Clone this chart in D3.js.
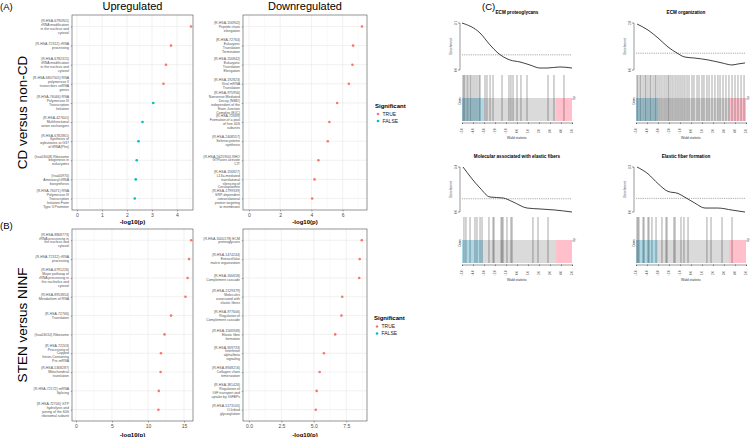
<!DOCTYPE html>
<html><head><meta charset="utf-8">
<script src="https://cdn.jsdelivr.net/npm/d3@7"></script>
<style>body{margin:0;background:#fff}svg{display:block}</style>
</head><body>
<svg id="c" width="750" height="437"></svg>
<script>
// ---------------- DATA ----------------
const upCDLabels = [
 "(R-HSA-6790901)\nrRNA modification\nin the nucleus and\ncytosol",
 "(R-HSA-72312) rRNA\nprocessing",
 "(R-HSA-6782315)\ntRNA modification\nin the nucleus and\ncytosol",
 "(R-HSA-6807505) RNA\npolymerase II\ntranscribes snRNA\ngenes",
 "(R-HSA-76046) RNA\nPolymerase III\nTranscription\nInitiation",
 "(R-HSA-427601)\nMultifunctional\nanion exchangers",
 "(R-HSA-6782861)\nSynthesis of\nwybutosine at G37\nof tRNA(Phe)",
 "(hsa03008) Ribosome\nbiogenesis in\neukaryotes",
 "(hsa00970)\nAminoacyl-tRNA\nbiosynthesis",
 "(R-HSA-76071) RNA\nPolymerase III\nTranscription\nInitiation From\nType 3 Promoter"];
const upCDValues = [4.56, 3.76, 3.56, 3.46, 3.05, 2.62, 2.46, 2.39, 2.35, 2.31];
const upCDSig = [true, true, true, true, false, false, false, false, false, false];

const downCDLabels = [
 "(R-HSA-156902)\nPeptide chain\nelongation",
 "(R-HSA-72764)\nEukaryotic\nTranslation\nTermination",
 "(R-HSA-156842)\nEukaryotic\nTranslation\nElongation",
 "(R-HSA-192823)\nViral mRNA\nTranslation",
 "(R-HSA-975956)\nNonsense Mediated\nDecay (NMD)\nindependent of the\nExon Junction\nComplex (EJC)",
 "(R-HSA-72689)\nFormation of a pool\nof free 40S\nsubunits",
 "(R-HSA-2408557)\nSelenocysteine\nsynthesis",
 "(R-HSA-5625900) RHO\nGTPases activate\nCIT",
 "(R-HSA-156827)\nL13a-mediated\ntranslational\nsilencing of\nCeruloplasmin",
 "(R-HSA-1799339)\nSRP-dependent\ncotranslational\nprotein targeting\nto membrane"];
const downCDValues = [7.24, 6.67, 6.63, 6.40, 5.65, 5.15, 5.05, 4.45, 4.20, 4.05];
const downCDSig = [true, true, true, true, true, true, true, true, true, true];

const upSNLabels = [
 "(R-HSA-8868773)\nrRNA processing in\nthe nucleus and\ncytosol",
 "(R-HSA-72312) rRNA\nprocessing",
 "(R-HSA-6791226)\nMajor pathway of\nrRNA processing in\nthe nucleolus and\ncytosol",
 "(R-HSA-8953854)\nMetabolism of RNA",
 "(R-HSA-72766)\nTranslation",
 "(hsa03010) Ribosome",
 "(R-HSA-72203)\nProcessing of\nCapped\nIntron-Containing\nPre-mRNA",
 "(R-HSA-5368287)\nMitochondrial\ntranslation",
 "(R-HSA-72172) mRNA\nSplicing",
 "(R-HSA-72706) GTP\nhydrolysis and\njoining of the 60S\nribosomal subunit"];
const upSNValues = [16.0, 15.7, 15.5, 15.2, 13.2, 12.3, 11.8, 11.75, 11.5, 11.45];
const upSNSig = [true, true, true, true, true, true, true, true, true, true];

const downSNLabels = [
 "(R-HSA-3000178) ECM\nproteoglycans",
 "(R-HSA-1474244)\nExtracellular\nmatrix organization",
 "(R-HSA-166658)\nComplement cascade",
 "(R-HSA-2129379)\nMolecules\nassociated with\nelastic fibres",
 "(R-HSA-977606)\nRegulation of\nComplement cascade",
 "(R-HSA-1566948)\nElastic fibre\nformation",
 "(R-HSA-909733)\nInterferon\nalpha/beta\nsignaling",
 "(R-HSA-8948216)\nCollagen chain\ntrimerization",
 "(R-HSA-381426)\nRegulation of\nIGF transport and\nuptake by IGFBPs",
 "(R-HSA-5173105)\nO-linked\nglycosylation"];
const downSNValues = [8.70, 8.54, 8.50, 7.19, 7.13, 6.65, 5.78, 5.45, 5.22, 5.15];
const downSNSig = [true, true, true, true, true, true, true, true, true, true];

const sigLevels = ["TRUE", "FALSE"];

// Panel C: barcode / enrichment worms
const gseaTitles = ["ECM proteoglycans", "ECM organization",
                    "Molecular associated with elastic fibers", "Elastic fiber formation"];
const waldTicks = [-5, -4, -3, -2, -1, 0, 1, 2, 3, 4, 5];
const enrichMax = [3.1, 2.8, 3.4, 3.3];
const wormECMproteo = [[-5,3.1],[-3.36,2.44],[-2.45,1.65],[-1.73,1.12],[-0.64,0.66],[0.27,0.53],[1.18,0.33],[2.09,0.13],[2.73,0.13],[3.91,0.2],[5,0.13]];
const wormECMorg = [[-4.91,2.74],[-3.91,2.38],[-3.0,1.91],[-2.09,1.37],[-1.27,1.01],[-0.55,0.77],[0.36,0.71],[1.55,0.6],[2.82,0.42],[3.73,0.3],[4.27,0.36],[4.91,0.42]];
const wormElasticMol = [[-4.91,3.4],[-3.36,1.81],[-2.45,1.13],[-1.27,1.06],[-0.36,0.76],[0.91,0.3],[2.09,0.23],[3.45,0.15],[5,0.0]];
const wormElasticForm = [[-4.91,3.3],[-3.91,2.8],[-3.0,2.08],[-2.09,1.51],[-1.18,1.36],[-0.55,1.08],[0.36,0.65],[1.27,0.29],[2.45,0.29],[3.73,0.14],[4.91,0.0]];
const statsECMproteo = [-4.91,-4.82,-4.73,-4.55,-4.45,-4.27,-4.18,-4.0,-3.82,-3.64,-3.45,-3.36,-2.91,-2.73,-2.45,-2.18,-1.36,-0.73,-0.55,-0.36,0.0,0.36,0.91,2.82,3.36,4.27];
const statsECMorg = [-4.91,-4.82,-4.64,-4.55,-4.36,-4.18,-4.09,-3.91,-3.73,-3.64,-3.45,-3.27,-3.18,-3.0,-2.82,-2.64,-2.45,-2.27,-2.09,-2.0,-1.82,-1.64,-1.45,-1.27,-1.09,-0.91,-0.73,-0.55,-0.36,-0.18,0.09,0.27,0.55,0.73,1.0,1.18,1.45,1.64,1.91,2.18,2.45,2.64,2.91,3.18,3.45,3.73,4.0,4.27,4.55,4.82];
const statsElasticMol = [-4.82,-4.64,-4.27,-3.82,-3.64,-3.36,-3.18,-2.55,-2.18,-2.09,-1.45,-1.36,-1.27,-0.91,-0.55,-0.45,1.45,1.91,2.82];
const statsElasticForm = [-4.91,-4.82,-4.73,-4.36,-4.27,-3.91,-3.82,-3.55,-3.18,-2.64,-2.27,-2.18,-1.55,-1.45,-0.91,-0.64,-0.27,1.45,1.82,2.82,3.73];
const lowerQuant = [-3.0, -3.0, -3.1, -3.0];
const upperQuant = [3.55, 3.45, 3.55, 3.45];

// ---------------- DRAW ----------------
const FONT = "'Liberation Sans', Arial, Helvetica, sans-serif";
const svg = d3.select("#c").style("font-family", FONT);
const colTrue = "#F8766D", colFalse = "#00BFC4";

function dotPlot(c) {
  const g = svg.append("g");
  const x = d3.scaleLinear().domain(c.domain).range([c.x0, c.x1]);
  const y = d3.scalePoint().domain(d3.range(c.labels.length)).range([c.y0, c.y1]).padding(0.6);
  g.append("rect").attr("x", c.x0).attr("y", c.y0).attr("width", c.x1 - c.x0).attr("height", c.y1 - c.y0).attr("fill", "#fff");
  g.selectAll(null).data(c.minor).join("line")
    .attr("x1", d => x(d)).attr("x2", d => x(d)).attr("y1", c.y0).attr("y2", c.y1)
    .attr("stroke", "#f3f3f3").attr("stroke-width", 0.4);
  g.selectAll(null).data(c.ticks).join("line")
    .attr("x1", d => x(d)).attr("x2", d => x(d)).attr("y1", c.y0).attr("y2", c.y1)
    .attr("stroke", "#e8e8e8").attr("stroke-width", 0.6);
  g.selectAll(null).data(d3.range(c.labels.length)).join("line")
    .attr("x1", c.x0).attr("x2", c.x1).attr("y1", d => y(d)).attr("y2", d => y(d))
    .attr("stroke", "#e8e8e8").attr("stroke-width", 0.6);
  g.append("rect").attr("x", c.x0).attr("y", c.y0).attr("width", c.x1 - c.x0).attr("height", c.y1 - c.y0)
    .attr("fill", "none").attr("stroke", "#4d4d4d").attr("stroke-width", 0.6);
  g.selectAll(null).data(c.values).join("circle")
    .attr("cx", d => x(d)).attr("cy", (d, i) => y(i)).attr("r", 1.3)
    .attr("fill", (d, i) => c.sig[i] ? colTrue : colFalse);
  const ax = g.append("g").attr("transform", `translate(0,${c.y1})`)
    .call(d3.axisBottom(x).tickValues(c.ticks).tickSize(1.5).tickPadding(1.5).tickFormat(c.fmt));
  ax.select(".domain").remove();
  ax.selectAll("line").attr("stroke", "#4d4d4d").attr("stroke-width", 0.5);
  ax.selectAll("text").attr("font-size", 5).attr("fill", "#4d4d4d").attr("font-family", FONT);
  const ay = g.append("g").attr("transform", `translate(${c.x0},0)`)
    .call(d3.axisLeft(y).tickSize(1.2).tickFormat(""));
  ay.select(".domain").remove();
  ay.selectAll("line").attr("stroke", "#4d4d4d").attr("stroke-width", 0.5);
  const lh = 3.9;
  c.labels.forEach((lab, i) => {
    const lines = lab.split("\n");
    const t = g.append("text").attr("text-anchor", "end").attr("font-size", 3.5).attr("fill", "#555");
    lines.forEach((ln, k) => {
      t.append("tspan").attr("x", c.x0 - 3)
        .attr("y", y(i) - (lines.length - 1) * lh / 2 + k * lh + 1.2).text(ln);
    });
  });
  g.append("text").attr("x", (c.x0 + c.x1) / 2).attr("y", c.titleY).attr("text-anchor", "middle")
    .attr("font-size", 6).attr("font-weight", "bold").attr("fill", "#000").text("-log10(p)");
}

const row1 = {y0: 15, y1: 210, titleY: 223.5};
const row2 = {y0: 229, y1: 421, titleY: 437};
dotPlot({...row1, x0: 72, x1: 193, domain: [-0.2, 4.64], ticks: [0, 1, 2, 3, 4], minor: [0.5, 1.5, 2.5, 3.5, 4.5], fmt: d3.format("d"),
  labels: upCDLabels, values: upCDValues, sig: upCDSig});
dotPlot({...row1, x0: 243, x1: 367, domain: [-0.38, 7.56], ticks: [0, 2, 4, 6], minor: [1, 3, 5, 7], fmt: d3.format("d"),
  labels: downCDLabels, values: downCDValues, sig: downCDSig});
dotPlot({...row2, x0: 72, x1: 193, domain: [-0.55, 16.25], ticks: [0, 5, 10, 15], minor: [2.5, 7.5, 12.5], fmt: d3.format("d"),
  labels: upSNLabels, values: upSNValues, sig: upSNSig});
dotPlot({...row2, x0: 243, x1: 367, domain: [-0.46, 9.1], ticks: [0, 2.5, 5, 7.5], minor: [1.25, 3.75, 6.25, 8.75], fmt: d3.format(".1f"),
  labels: downSNLabels, values: downSNValues, sig: downSNSig});

// titles & row labels
svg.append("text").attr("x", 132.5).attr("y", 10).attr("text-anchor", "middle").attr("font-size", 11).text("Upregulated");
svg.append("text").attr("x", 305).attr("y", 10).attr("text-anchor", "middle").attr("font-size", 11).text("Downregulated");
svg.append("text").attr("x", 0).attr("y", 10).attr("font-size", 9.5).text("(A)");
svg.append("text").attr("x", 0).attr("y", 229).attr("font-size", 9.5).text("(B)");
svg.append("text").attr("x", 482).attr("y", 10).attr("font-size", 9.5).text("(C)");
svg.append("text").attr("transform", "translate(27,112.5) rotate(-90)").attr("text-anchor", "middle").attr("font-size", 13.5).text("CD versus non-CD");
svg.append("text").attr("transform", "translate(27,325) rotate(-90)").attr("text-anchor", "middle").attr("font-size", 13.5).text("STEN versus NINF");

// legends
function legend(x, y) {
  const g = svg.append("g");
  g.append("text").attr("x", x).attr("y", y).attr("font-size", 6).attr("font-weight", "bold").text("Significant");
  sigLevels.forEach((s, i) => {
    g.append("circle").attr("cx", x + 3).attr("cy", y + 6.5 + i * 7).attr("r", 1.3).attr("fill", i === 0 ? colTrue : colFalse);
    g.append("text").attr("x", x + 7.5).attr("y", y + 8.3 + i * 7).attr("font-size", 5).attr("fill", "#222").text(s);
  });
}
legend(375, 107.5);
legend(374, 320);

// ---------------- PANEL C ----------------
const worms = [wormECMproteo, wormECMorg, wormElasticMol, wormElasticForm];
const statsList = [statsECMproteo, statsECMorg, statsElasticMol, statsElasticForm];
const rowsC = [
  {titleY: 13.5, eTop: 23, eBot: 70, bTop: 75, gTop: 98, bBot: 121},
  {titleY: 157.5, eTop: 167, eBot: 212, bTop: 217, gTop: 240, bBot: 263}];
const colsC = [{x0: 462, x1: 572, tx: 517}, {x0: 636, x1: 746, tx: 686}];

function gsea(k) {
  const r = rowsC[Math.floor(k / 2)], c = colsC[k % 2];
  const g = svg.append("g");
  const x = d3.scaleLinear().domain([-5, 5]).range([c.x0, c.x1]);
  const ye = d3.scaleLinear().domain([0, enrichMax[k]]).range([r.eBot, r.eTop]);
  g.append("text").attr("x", c.tx).attr("y", r.titleY).attr("text-anchor", "middle")
    .attr("font-size", 4.6).attr("font-weight", "bold").text(gseaTitles[k]);
  const axX = c.x0 - 2;
  g.append("line").attr("x1", axX).attr("x2", axX).attr("y1", ye(enrichMax[k])).attr("y2", ye(0)).attr("stroke", "#333").attr("stroke-width", 0.5);
  [0, enrichMax[k]].forEach(v => {
    g.append("line").attr("x1", axX - 2).attr("x2", axX).attr("y1", ye(v)).attr("y2", ye(v)).attr("stroke", "#333").attr("stroke-width", 0.5);
    g.append("text").attr("transform", `translate(${axX - 3.5},${ye(v)}) rotate(-90)`).attr("text-anchor", "middle")
      .attr("font-size", 3).attr("fill", "#333").text(d3.format(".1f")(v));
  });
  g.append("text").attr("transform", `translate(${axX - 8},${(r.eTop + r.eBot) / 2}) rotate(-90)`).attr("text-anchor", "middle")
    .attr("font-size", 3.2).attr("fill", "#333").text("Enrichment");
  g.append("line").attr("x1", c.x0).attr("x2", c.x1).attr("y1", ye(1)).attr("y2", ye(1))
    .attr("stroke", "#555").attr("stroke-width", 0.5).attr("stroke-dasharray", "1.2,1");
  g.append("path").datum(worms[k]).attr("fill", "none").attr("stroke", "#111").attr("stroke-width", 0.8)
    .attr("d", d3.line().x(d => x(d[0])).y(d => ye(d[1])).curve(d3.curveMonotoneX));
  g.append("rect").attr("x", c.x0).attr("y", r.gTop).attr("width", c.x1 - c.x0).attr("height", r.bBot - r.gTop).attr("fill", "#dadada");
  g.append("rect").attr("x", c.x0).attr("y", r.gTop).attr("width", x(lowerQuant[k]) - c.x0).attr("height", r.bBot - r.gTop).attr("fill", "#add8e6");
  g.append("rect").attr("x", x(upperQuant[k])).attr("y", r.gTop).attr("width", c.x1 - x(upperQuant[k])).attr("height", r.bBot - r.gTop).attr("fill", "#ffc0cb");
  g.selectAll(null).data(statsList[k]).join("line")
    .attr("x1", d => x(d)).attr("x2", d => x(d)).attr("y1", r.bTop).attr("y2", r.bBot)
    .attr("stroke", "#222").attr("stroke-width", 0.6).attr("stroke-opacity", 0.65);
  g.append("text").attr("transform", `translate(${c.x1 + 3},${r.gTop}) rotate(-90)`).attr("text-anchor", "middle")
    .attr("font-size", 2.8).attr("fill", "#333").text("Up");
  g.append("text").attr("transform", `translate(${c.x0 - 1},${r.gTop + 3}) rotate(-90)`).attr("text-anchor", "middle")
    .attr("font-size", 2.8).attr("fill", "#333").text("Down");
  const ax = g.append("g").attr("transform", `translate(0,${r.bBot + 1.5})`)
    .call(d3.axisBottom(x).tickValues(waldTicks).tickSize(1.5).tickFormat(""));
  ax.selectAll("line, path").attr("stroke", "#333").attr("stroke-width", 0.5);
  g.selectAll(null).data(waldTicks).join("text")
    .attr("transform", d => `translate(${x(d) + 1},${r.bBot + 10}) rotate(-90)`).attr("text-anchor", "middle")
    .attr("font-size", 3).attr("fill", "#333").text(d => d3.format(".1f")(d));
  g.append("text").attr("x", (c.x0 + c.x1) / 2).attr("y", r.bBot + 18).attr("text-anchor", "middle")
    .attr("font-size", 3.4).attr("fill", "#333").text("Wald statistic");
}
[0, 1, 2, 3].forEach(gsea);
</script>
</body></html>
